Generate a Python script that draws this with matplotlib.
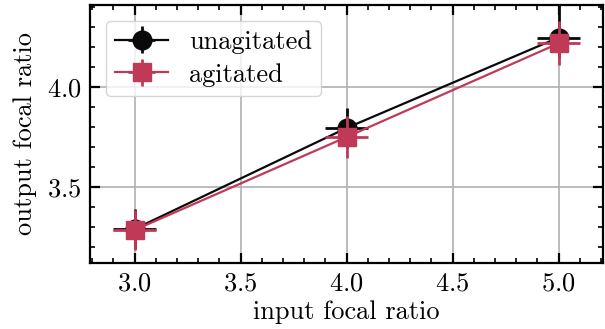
import matplotlib
matplotlib.use("Agg")
import matplotlib.pyplot as plt
from matplotlib.ticker import MultipleLocator

plt.rcParams.update({
    "font.family": "serif",
    "font.serif": ["cmr10", "DejaVu Serif"],
    "mathtext.fontset": "cm",
    "axes.formatter.use_mathtext": True,
    "axes.unicode_minus": False,
})

input_ratio = [3.0, 4.0, 5.0]
unagitated = [3.29, 3.795, 4.247]
unagitated_yerr_low = [0.1, 0.1, 0.1]
unagitated_yerr_high = [0.1, 0.1, 0.17]
agitated = [3.285, 3.75, 4.218]
agitated_yerr = [0.1, 0.105, 0.11]
xerr = [0.1, 0.1, 0.1]

black = "#0a0a0a"
pink = "#C03A58"

fig = plt.figure(figsize=(6.05, 3.29), dpi=100)
ax = fig.add_axes([0.149, 0.2006, 0.848, 0.7844])

ax.errorbar(input_ratio, unagitated, yerr=[unagitated_yerr_low, unagitated_yerr_high],
            xerr=xerr, color=black, marker="o", markersize=13.5, lw=1.6, elinewidth=2,
            label="unagitated", zorder=3)
ax.errorbar(input_ratio, agitated, yerr=agitated_yerr, xerr=xerr, color=pink,
            marker="s", markersize=13.5, lw=1.6, elinewidth=2, label="agitated", zorder=4)

ax.set_xlim(2.79, 5.21)
ax.set_ylim(3.12, 4.41)
ax.xaxis.set_major_locator(MultipleLocator(0.5))
ax.xaxis.set_minor_locator(MultipleLocator(0.1))
ax.yaxis.set_major_locator(MultipleLocator(0.5))
ax.yaxis.set_minor_locator(MultipleLocator(0.1))
ax.grid(True, which="major", color="#b0b0b0", lw=1.2, zorder=0)
ax.set_axisbelow(True)

fs = 19
ax.tick_params(which="both", direction="in", top=True, right=True, labelsize=fs)
ax.tick_params(which="major", length=7, width=1.6, pad=6)
ax.tick_params(which="minor", length=3.5, width=1.2)
for s in ax.spines.values():
    s.set_linewidth(1.6)

ax.set_xlabel("input focal ratio", fontsize=fs, labelpad=4)
ax.set_ylabel("output focal ratio", fontsize=fs, labelpad=7)

leg = ax.legend(loc="upper left", fontsize=fs, frameon=True, fancybox=True,
                framealpha=0.8, edgecolor="#cccccc", handlelength=2.0,
                borderpad=0.35, labelspacing=0.35, handletextpad=0.8,
                borderaxespad=0.6)

fig.savefig("out.png", dpi=100)
